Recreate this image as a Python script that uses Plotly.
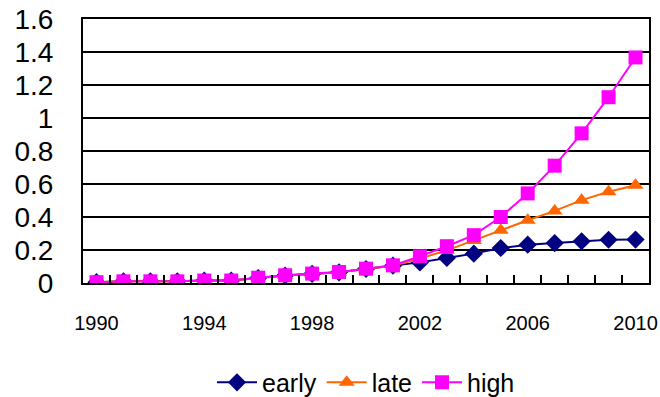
import plotly.graph_objects as go

years = list(range(1990, 2011))
early = [0.005, 0.01, 0.01, 0.01, 0.015, 0.015, 0.03, 0.045, 0.055, 0.065, 0.085, 0.105,
         0.125, 0.152, 0.178, 0.212, 0.232, 0.242, 0.253, 0.262, 0.263]
late = [0.005, 0.01, 0.01, 0.01, 0.015, 0.015, 0.03, 0.045, 0.055, 0.065, 0.085, 0.105,
        0.148, 0.198, 0.258, 0.32, 0.38, 0.437, 0.502, 0.553, 0.593]
high = [0.005, 0.01, 0.01, 0.01, 0.015, 0.015, 0.032, 0.047, 0.057, 0.067, 0.087, 0.107,
        0.162, 0.223, 0.29, 0.40, 0.543, 0.711, 0.907, 1.126, 1.367]
label_years = [1990, 1994, 1998, 2002, 2006, 2010]
y_ticks = [0, 0.2, 0.4, 0.6, 0.8, 1, 1.2, 1.4, 1.6]
y_labels = ["0", "0.2", "0.4", "0.6", "0.8", "1", "1.2", "1.4", "1.6"]

fig = go.Figure()
fig.add_trace(go.Scatter(x=years, y=early, name="early", mode="lines+markers",
                         line=dict(color="#000080", width=2),
                         marker=dict(symbol="diamond", size=14, color="#000080")))
fig.add_trace(go.Scatter(x=years, y=late, name="late", mode="lines+markers",
                         line=dict(color="#FF6600", width=2),
                         marker=dict(symbol="triangle-up", size=14, color="#FF6600")))
fig.add_trace(go.Scatter(x=years, y=high, name="high", mode="lines+markers",
                         line=dict(color="#FF00FF", width=2),
                         marker=dict(symbol="square", size=14, color="#FF00FF")))
# invisible trace to carry the label axis
fig.add_trace(go.Scatter(x=[years[0], years[-1]], y=[0, 0], xaxis="x2", mode="markers",
                         marker=dict(opacity=0), showlegend=False, hoverinfo="skip"))

tick_positions = [y - 0.5 for y in years] + [years[-1] + 0.5]

fig.update_layout(
    width=660, height=397,
    margin=dict(l=83, r=11, t=19, b=114, autoexpand=False),
    paper_bgcolor="white", plot_bgcolor="white",
    font=dict(family="Liberation Sans, Arial, sans-serif", color="black"),
    xaxis=dict(range=[1989.5, 2010.5], tickmode="array", tickvals=tick_positions,
               ticktext=[""] * len(tick_positions), ticks="inside", ticklen=8,
               tickwidth=2, tickcolor="black", showgrid=False, zeroline=False,
               showline=True, linecolor="black", linewidth=2, mirror=True),
    xaxis2=dict(overlaying="x", matches="x", side="bottom", range=[1989.5, 2010.5],
                tickmode="array", tickvals=label_years,
                ticktext=[str(v) for v in label_years], ticks="",
                showgrid=False, zeroline=False, showline=False,
                tickfont=dict(size=20, family="Liberation Sans, Arial"),
                ticklabelstandoff=26),
    yaxis=dict(range=[0, 1.6], tickmode="array", tickvals=y_ticks, ticktext=y_labels,
               showgrid=True, gridcolor="black", gridwidth=2, zeroline=False,
               showline=True, linecolor="black", linewidth=2, mirror=True,
               ticks="", tickfont=dict(size=28), ticklabelstandoff=22),
    legend=dict(orientation="h", x=0.5, xanchor="center", y=-0.29, yanchor="top",
                font=dict(size=25), itemwidth=40, tracegroupgap=0,
                traceorder="normal"),
    showlegend=True,
)

fig.write_html("out.html", config={"displayModeBar": False},
               post_script="document.body.style.margin='0px';document.body.style.overflow='hidden';")
